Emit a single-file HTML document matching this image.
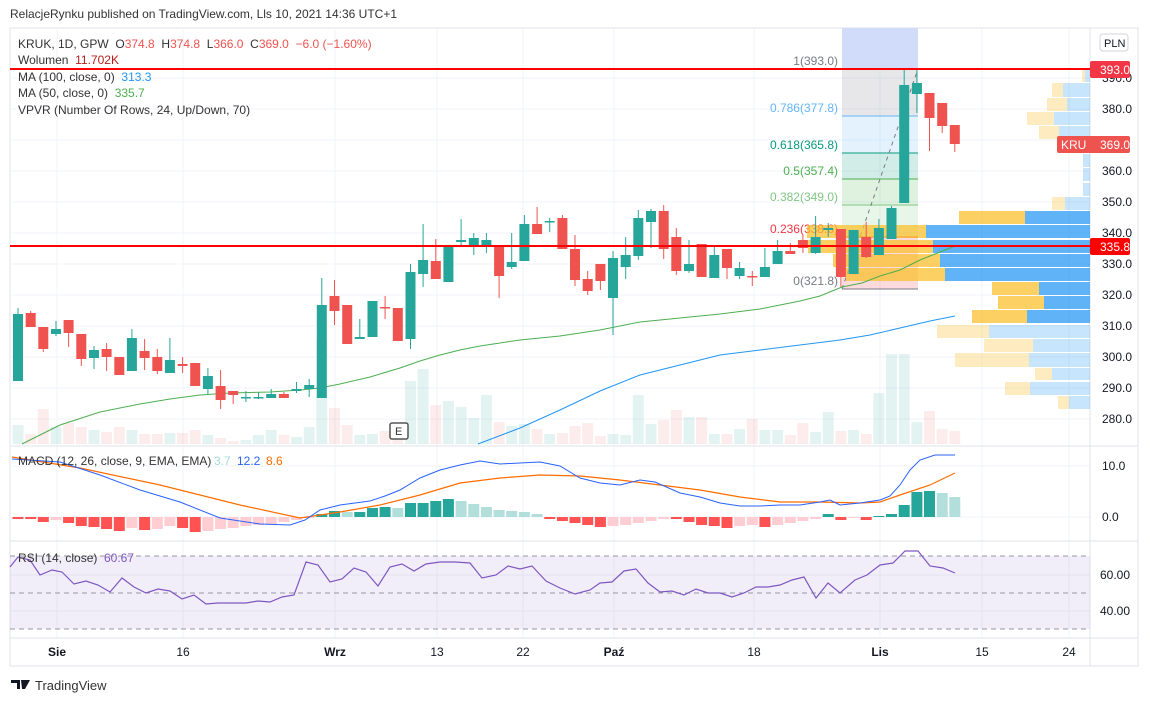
<!DOCTYPE html>
<html><head><meta charset="utf-8"><style>
body{margin:0;background:#fff;width:1150px;height:702px;overflow:hidden;font-family:"Liberation Sans",sans-serif}
svg{position:absolute;left:0;top:0}
</style></head><body>
<svg id="s" width="1150" height="702" xmlns="http://www.w3.org/2000/svg" font-family="Liberation Sans, sans-serif"></svg>
<script>
var o=[];
function R(x,y,w,h,f,ex){o.push('<rect x="'+x+'" y="'+y+'" width="'+w+'" height="'+h+'" fill="'+f+'" '+(ex||'')+'/>');}
function L(x1,y1,x2,y2,c,w,ex){o.push('<line x1="'+x1+'" y1="'+y1+'" x2="'+x2+'" y2="'+y2+'" stroke="'+c+'" stroke-width="'+(w||1)+'" '+(ex||'')+'/>');}
function T(x,y,t,c,sz,ex){o.push('<text x="'+x+'" y="'+y+'" fill="'+c+'" font-size="'+(sz||12)+'" '+(ex||'')+'>'+t+'</text>');}
function P(pts,c,w,ex){o.push('<polyline fill="none" stroke="'+c+'" stroke-width="'+(w||1)+'" points="'+pts.map(function(p){return p.join(',')}).join(' ')+'" '+(ex||'')+'/>');}
R(10,28,1128,638,'#fff','stroke="#e0e3eb"');
var vx=[57,183,335,437,523,614,754,880,982,1069];
vx.forEach(function(x){L(x,28,x,638,'#f0f3fa');});
for(var p=280;p<=390;p+=10){var y=78+(390-p)*3.1;L(10,y,1090,y,'#f0f3fa');if(p!=370)T(1102,y+4,p+'.0','#131722',12);}
L(10,466,1090,466,'#f0f3fa');L(10,517,1090,517,'#f0f3fa');
L(10,575,1090,575,'#f0f3fa');L(10,611,1090,611,'#f0f3fa');
L(10,446,1138,446,'#e0e3eb');L(10,541,1138,541,'#e0e3eb');L(10,638,1138,638,'#e0e3eb');L(1090,28,1090,666,'#e0e3eb');
R(842,28,76,41,'#d1dcfb');
R(842,69,76,47,'rgba(120,123,134,0.18)');
R(842,116,76,37,'rgba(100,181,246,0.18)');
R(842,153,76,26,'rgba(8,153,129,0.18)');
R(842,179,76,26,'rgba(76,175,80,0.18)');
R(842,205,76,32,'rgba(129,199,132,0.18)');
R(842,237,76,52,'rgba(242,54,69,0.18)');
[[69,'#787b86','1(393.0)'],[116,'#64b5f6','0.786(377.8)'],[153,'#089981','0.618(365.8)'],[179,'#4caf50','0.5(357.4)'],[205,'#81c784','0.382(349.0)'],[237,'#f23645','0.236(338.6)'],[289,'#787b86','0(321.8)']].forEach(function(f){L(842,f[0],918,f[0],f[1]);T(838,f[0]-4,f[2],f[1],12,'text-anchor="end"');});
L(842,289,918,69,'#787b86',1,'stroke-dasharray="4,4"');
var vol=[425,434,409,427,423,427,430,432,427,430,434,434,433,433,430,435,438,441,440,435,430,435,437,427,340,408,425,435,434,431,432,381,369,405,401,407,418,395,422,426,424,429,434,433,426,423,436,434,435,395,424,420,410,417,417,434,434,429,419,430,430,435,423,432,412,431,430,434,393,354,354,422,411,429,431];
var C=[[314,381,308,381,'g'],[313,327,311,327,'r'],[327,349,327,352,'r'],[329,334,321,336,'g'],[320,333,320,347,'r'],[334,359,334,366,'r'],[350,358,346,369,'g'],[349,357,343,371,'r'],[357,375,357,375,'r'],[338,371,329,371,'g'],[351,358,339,370,'r'],[357,371,349,374,'r'],[360,373,338,373,'g'],[364,366,357,373,'r'],[363,386,363,386,'r'],[376,389,368,394,'g'],[386,400,370,409,'r'],[391,395,391,404,'r'],[397,398,391,402,'g'],[397,398,392,399,'g'],[394,398,389,398,'g'],[394,398,392,398,'r'],[389,391,382,393,'g'],[385,389,379,397,'g'],[305,398,278,398,'g'],[296,311,280,325,'r'],[305,344,305,344,'r'],[337,339,319,339,'g'],[301,337,301,337,'g'],[307,308,296,319,'r'],[308,341,308,341,'r'],[272,339,264,349,'g'],[260,274,224,287,'g'],[261,279,239,279,'r'],[246,282,246,282,'g'],[240,242,219,247,'g'],[238,246,233,255,'g'],[240,246,233,253,'g'],[246,276,246,298,'r'],[262,267,233,269,'g'],[224,261,215,261,'g'],[224,234,207,234,'r'],[221,222,218,232,'g'],[218,249,215,249,'r'],[249,280,235,286,'r'],[279,291,271,295,'r'],[264,281,264,290,'r'],[258,298,251,335,'g'],[255,267,237,279,'g'],[218,256,210,260,'g'],[211,222,209,248,'g'],[211,249,205,259,'r'],[237,271,228,275,'r'],[264,271,240,273,'g'],[244,277,244,277,'r'],[255,278,247,278,'g'],[249,268,249,279,'r'],[268,276,262,279,'g'],[276,277,271,286,'r'],[267,277,248,277,'g'],[251,264,240,264,'g'],[251,254,243,254,'r'],[240,248,235,253,'r'],[237,253,216,254,'g'],[228,230,223,237,'g'],[229,277,229,287,'r'],[230,274,230,274,'g'],[237,257,222,258,'r'],[228,255,219,255,'g'],[208,239,206,239,'g'],[85,203,70,203,'g'],[83,94,70,113,'g'],[93,118,93,151,'r'],[103,126,103,133,'r'],[125,144,125,152,'r']];
function X(i){return 18+i*12.66;}
C.forEach(function(c,i){R((X(i)-5.5).toFixed(1),vol[i],11,444-vol[i],c[4]=='g'?'rgba(38,166,154,0.13)':'rgba(239,83,80,0.11)');});
var V=[[70,12,1082,1085,0],[83,14,1052,1063,0],[98,13,1047,1067,0],[112,13,1027,1054,0],[126,13,1039,1059,0],[140,13,1083,1083,0],[154,13,1083,1083,0],[168,13,1083,1083,0],[183,13,1083,1083,0],[197,13,1052,1065,0],[211,13,959,1025,1],[225,13,807,926,1],[240,13,808,933,1],[254,13,833,940,1],[268,13,846,945,1],[282,13,992,1039,1],[296,13,998,1044,1],[310,13,972,1027,1],[325,13,937,989,0],[339,13,984,1033,0],[353,14,955,1029,0],[368,12,1035,1052,0],[382,13,1005,1030,0],[396,13,1058,1069,0]];
V.forEach(function(v){var a=v[4]?0.75:0.3;R(v[2],v[0],v[3]-v[2],v[1],'rgba(251,192,45,'+a+')');R(v[3],v[0],1090-v[3],v[1],'rgba(33,150,243,'+(v[4]?0.72:0.25)+')');});
P([[22,444],[60,425],[100,412],[140,404],[170,399],[200,395],[230,393],[270,392],[300,390],[320,388],[340,384],[370,377],[400,368],[420,361],[440,355],[460,350],[480,346],[500,343],[520,340],[560,336],[600,330],[640,322],[680,318],[720,314],[760,309],[800,301],[820,296],[842,287],[862,283],[880,276],[900,270],[920,260],[940,252],[955,246]],'#4caf50',1);
P([[478,444],[520,428],[560,410],[600,391],[640,375],[680,365],[720,355],[760,350],[800,345],[840,340],[870,335],[900,328],[930,321],[955,316]],'#2196f3',1);
C.forEach(function(c,i){var x=X(i),col=c[4]=='g'?'#26a69a':'#ef5350';L(x.toFixed(1),c[2],x.toFixed(1),c[3],col);R((x-5).toFixed(1),c[0],10,Math.max(1.5,c[1]-c[0]),col);});
L(10,69,1090,69,'#f00',2);L(10,246,1090,246,'#f00',2);
R(1090,61,40,17,'#f23645','rx="2"');T(1100,74,'393.0','#fff',12);
R(1057,136,73,17,'#ef5350','rx="2"');T(1061,149,'KRU','#fff',12);T(1100,149,'369.0','#fff',12);
R(1090,238,40,17,'#f00','rx="2"');T(1100,251,'335.8','#fff',12);
R(1100,34,28,17,'#fff','rx="3" stroke="#d1d4dc"');T(1104,47,'PLN','#131722',11);
R(390,423,18,16,'#fff','rx="2" stroke="#555" stroke-width="1.5"');T(395,435,'E','#333',11);
var hs=[-2,-2,-5,-3,-6,-9,-10,-12,-14,-11,-13,-12,-9,-11,-15,-14,-12,-11,-9,-8,-7,-5,-3,-1,3,6,5,5,9,10,9,14,14,16,18,16,13,10,7,6,5,3,-2,-4,-6,-8,-10,-9,-8,-6,-4,-2,-2,-5,-8,-9,-11,-9,-8,-10,-8,-6,-4,-2,3,-3,-1,-3,1,3,12,25,26,24,20];
hs.forEach(function(h,i){var prev=i?hs[i-1]:h,col;if(h>=0)col=h>=prev?'#26a69a':'#b2dfdb';else col=h<=prev?'#ff5252':'#ffcdd2';R((X(i)-5.5).toFixed(1),h>=0?517-h:517,11,Math.abs(h),col);});
P([[12,457],[80,468],[160,485],[240,505],[300,518],[340,512],[380,505],[420,495],[460,483],[500,478],[540,475],[580,476],[620,480],[660,485],[700,490],[740,497],[780,502],[820,502],[860,503],[880,502],[900,495],[930,485],[955,473]],'#ff6d00',1.2);
P([[12,459],[60,462],[100,475],[140,490],[180,502],[220,518],[260,524],[290,525],[305,520],[320,510],[340,505],[370,501],[385,496],[400,490],[420,478],[440,470],[460,465],[480,461],[500,464],[520,463],[540,462],[560,466],[580,478],[600,483],[620,485],[640,480],[655,482],[680,493],[700,497],[720,503],[740,506],[760,506],[780,505],[800,505],[820,502],[830,500],[840,505],[860,503],[880,500],[890,496],[900,485],[910,470],[920,460],[935,455],[955,455]],'#2962ff',1);
T(18,465,'MACD (12, 26, close, 9, EMA, EMA)','#333',12);T(214,465,'3.7','#a2dcd6',12);T(237,465,'12.2','#2962ff',12);T(266,465,'8.6','#ff6d00',12);
T(1102,470,'10.0','#131722',12);T(1102,521,'0.0','#131722',12);
R(10,556,1080,73,'rgba(126,87,194,0.1)');
[556,593,629].forEach(function(y){L(10,y,1090,y,'#9598a1',1,'stroke-dasharray="5,4"');});
P([[10,567],[18,557],[30,560],[40,575],[52,570],[62,572],[74,584],[86,581],[98,585],[110,592],[122,578],[134,587],[146,593],[158,589],[170,591],[182,599],[194,595],[206,604],[218,603],[234,603],[246,603],[258,601],[270,602],[282,597],[294,595],[306,562],[318,565],[330,582],[342,579],[354,568],[366,572],[378,586],[390,567],[402,564],[414,571],[426,564],[440,562],[455,562],[470,563],[482,578],[496,575],[508,566],[520,569],[532,566],[546,581],[560,588],[575,594],[590,590],[600,583],[612,582],[624,571],[636,569],[648,583],[660,592],[672,591],[684,595],[696,589],[708,593],[720,593],[732,597],[744,593],[756,587],[768,587],[780,585],[792,580],[804,577],[816,598],[828,583],[840,593],[855,580],[867,575],[880,565],[893,563],[905,551],[918,551],[930,566],[943,568],[955,573]],'#7e57c2',1.2);
T(18,562,'RSI (14, close)','#333',12);T(104,562,'60.67','#7e57c2',12);
T(1100,579,'60.00','#131722',12);T(1100,615,'40.00','#131722',12);
[['Sie',57,1],['16',183],['Wrz',335,1],['13',437],['22',523],['Paź',614,1],['18',754],['Lis',880,1],['15',982],['24',1069]].forEach(function(t){T(t[1],656,t[0],'#131722',12,'text-anchor="middle"'+(t[2]?' font-weight="bold"':''));});
var n='&#160;&#160;';
o.push('<text x="18" y="48" font-size="12" fill="#333">KRUK, 1D, GPW'+n+'O<tspan fill="#ef5350">374.8</tspan>'+n+'H<tspan fill="#ef5350">374.8</tspan>'+n+'L<tspan fill="#ef5350">366.0</tspan>'+n+'C<tspan fill="#ef5350">369.0</tspan>'+n+'<tspan fill="#ef5350">−6.0 (−1.60%)</tspan></text>');
o.push('<text x="18" y="64" font-size="12" fill="#333">Wolumen'+n+'<tspan fill="#b71c1c">11.702K</tspan></text>');
o.push('<text x="18" y="81" font-size="12" fill="#333">MA (100, close, 0)'+n+'<tspan fill="#2196f3">313.3</tspan></text>');
o.push('<text x="18" y="97" font-size="12" fill="#333">MA (50, close, 0)'+n+'<tspan fill="#4caf50">335.7</tspan></text>');
T(18,114,'VPVR (Number Of Rows, 24, Up/Down, 70)','#333',12);
T(10,18,'RelacjeRynku published on TradingView.com, Lls 10, 2021 14:36 UTC+1','#333',12);
o.push('<path d="M11,680h9v9h-3v-6h-6z M21,680h9l-5,9h-3z" fill="#131722"/>');
T(35,690,'TradingView','#333',13);
document.getElementById('s').innerHTML=o.join('');
</script>
</body></html>
